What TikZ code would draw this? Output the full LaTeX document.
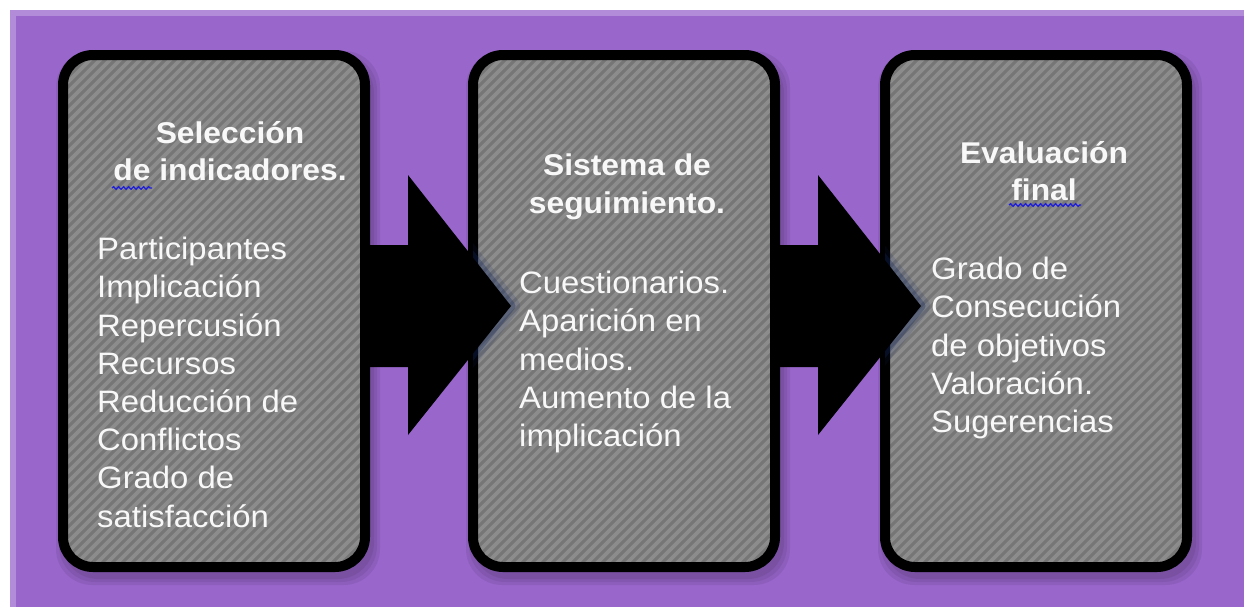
\documentclass[tikz,border=0pt]{standalone}
\usepackage{fontspec}
\setmainfont{Liberation Sans}[FakeStretch=1.06]
\usetikzlibrary{calc,decorations.pathmorphing}
\definecolor{bgpurple}{RGB}{153,102,204}
\definecolor{boxgray}{RGB}{118,118,118}
\definecolor{stripegray}{RGB}{140,140,140}
\definecolor{glowblue}{RGB}{20,40,95}
\definecolor{txtwhite}{RGB}{248,248,248}
\definecolor{spellblue}{RGB}{30,30,220}
\begin{document}
\begin{tikzpicture}[x=1pt,y=-1pt,
  box/.style={draw=black, line width=10pt, rounded corners=30pt, fill=boxgray,
    minimum width=302pt, minimum height=512pt, inner sep=0pt,
    path picture={\foreach \k in {-720,-710,...,420}{
      \draw[stripegray, line width=3.6pt]
        ($(path picture bounding box.south west)+(\k,0)$) -- ++(720,-720);}}},
  boxshadow/.style={fill=black, opacity=0.07, rounded corners=36pt},
  title/.style={text=txtwhite, font=\bfseries\fontsize{30}{37.5}\selectfont,
    align=center, inner sep=0pt, anchor=north},
  body/.style={text=txtwhite, font=\fontsize{31}{38.2}\selectfont,
    align=left, inner sep=0pt, anchor=north west},
  bigarrow/.style={fill=black},
  arrowglow/.style={draw=glowblue, line join=round},
  spell/.style={draw=spellblue, line width=1.3pt, decorate,
    decoration={snake, amplitude=1.3pt, segment length=5pt}}
]
\useasboundingbox (0,0) rectangle (1250,613);
\fill[white] (0,0) rectangle (1250,613);
% purple panel
\fill[bgpurple] (10,10) rectangle (1244,607);
\fill[white, opacity=0.25] (10,10) rectangle (16,607);
\fill[white, opacity=0.25] (16,10) rectangle (1244,16);
% soft shadows of the boxes
\foreach \cx in {214,624,1036}{
  \foreach \g in {0,3,6}{
    \fill[boxshadow] (\cx-156+4-\g,50+7-\g) rectangle (\cx+156+4+\g,572+7+\g);
  }
}
% boxes
\node[box] (b1) at (214,311) {};
\node[box] (b2) at (624,311) {};
\node[box] (b3) at (1036,311) {};
% block arrows between the boxes
\foreach \src/\dst in {b1/b2,b2/b3}{
  \begin{scope}
    \clip ($(\dst.west)+(5,-300)$) rectangle ($(\dst.west)+(200,300)$);
    \path[arrowglow, line width=18pt, opacity=0.15]
      ($(\src.east)+(38,-136)$) -- ($(\src.east)+(141,-5)$) -- ($(\src.east)+(38,124)$);
    \path[arrowglow, line width=9pt, opacity=0.3]
      ($(\src.east)+(38,-136)$) -- ($(\src.east)+(141,-5)$) -- ($(\src.east)+(38,124)$);
  \end{scope}
  \path[bigarrow]
    ($(\src.east)+(-5,-66)$) -- ($(\src.east)+(38,-66)$) -- ($(\src.east)+(38,-136)$)
    -- ($(\src.east)+(141,-5)$) -- ($(\src.east)+(38,124)$) -- ($(\src.east)+(38,56)$)
    -- ($(\src.east)+(-5,56)$) -- cycle;
}
% texts
\node[title] (t1) at (230,121) {Selección\\de indicadores.};
\node[body] (c1) at (97,237) {Participantes\\Implicación\\Repercusión\\Recursos\\Reducción de\\Conflictos\\Grado de\\satisfacción};
\node[title] (t2) at (627,154) {Sistema de\\seguimiento.};
\node[body] (c2) at (519,271) {Cuestionarios.\\Aparición en\\medios.\\Aumento de la\\implicación};
\node[title] (t3) at (1044,141) {Evaluación\\final};
\node[body] (c3) at (931,257) {Grado de\\Consecución\\de objetivos\\Valoración.\\Sugerencias};
% spell-check underlines
\coordinate (s1a) at (112,188);
\coordinate (s1b) at (152,188);
\draw[spell] (s1a) -- (s1b);
\coordinate (s3a) at (1009,205);
\coordinate (s3b) at (1081,205);
\draw[spell] (s3a) -- (s3b);
\end{tikzpicture}
\end{document}
